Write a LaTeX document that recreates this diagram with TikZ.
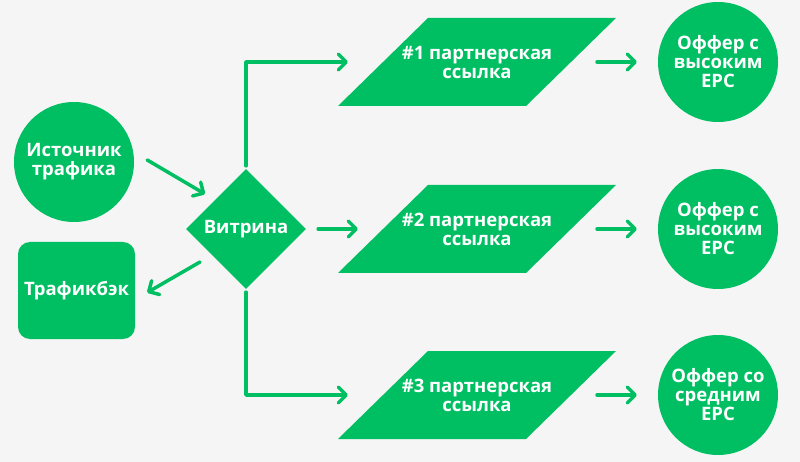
\documentclass[tikz,border=0pt]{standalone}
\usepackage{fontspec}
\setmainfont{Open Sans}
\usetikzlibrary{shapes.geometric,arrows.meta}
\definecolor{brand}{RGB}{0,191,99}
\definecolor{bgc}{RGB}{245,245,245}
\pgfdeclarelayer{under}
\pgfsetlayers{under,main}
\begin{document}
\begin{tikzpicture}[x=1pt,y=-1pt,
  lbl/.style={text=white,font=\bfseries\fontsize{18.5}{19}\selectfont,align=center,inner sep=0pt},
  blob/.style={lbl,circle,fill=brand,minimum size=120pt},
  para/.style={lbl,rectangle,minimum width=188pt,minimum height=88pt},
  rbox/.style={lbl,rectangle,rounded corners=12pt,fill=brand,minimum width=117pt,minimum height=97pt},
  dia/.style={lbl,diamond,aspect=1,fill=brand,minimum width=120pt,minimum height=120pt},
  arr/.style={draw=brand,line width=3.5pt,line cap=round,line join=round,-{Straight Barb[length=8pt,width=16pt,round]}},
  parafill/.style={fill=brand}
]
\begin{pgfonlayer}{under}
\fill[bgc] (0,0) rectangle (800,462);
\end{pgfonlayer}
\useasboundingbox (0,0) rectangle (800,462);

\node[blob] (src) at (74,162) {Источник\\трафика};
\node[rbox] (tb) at (76.5,290.5) {Трафикбэк};
\node[dia] (d) at (246,229) {Витрина};

\node[para] (p1) at (477,62) {\#1 партнерская\\ссылка};
\node[para] (p2) at (477,229) {\#2 партнерская\\ссылка};
\node[para] (p3) at (477,395) {\#3 партнерская\\ссылка};

\begin{pgfonlayer}{under}
\fill[parafill] ([shift={(-139,44)}]p1.center) -- ++(188,0) -- ++(90,-88) -- ++(-188,0) -- cycle;
\fill[parafill] ([shift={(-139,44)}]p2.center) -- ++(188,0) -- ++(90,-88) -- ++(-188,0) -- cycle;
\fill[parafill] ([shift={(-139,44)}]p3.center) -- ++(188,0) -- ++(90,-88) -- ++(-188,0) -- cycle;
\end{pgfonlayer}

\node[blob] (o1) at (718,62) {Оффер с\\высоким\\EPC};
\node[blob] (o2) at (718,229) {Оффер с\\высоким\\EPC};
\node[blob] (o3) at (718,395) {Оффер со\\средним\\EPC};

\draw[arr] ([shift={(13,-2)}]src.east) -- ([shift={(-41,-35)}]d.center);
\draw[arr] ([shift={(-46,33)}]d.center) -- ([shift={(12,2)}]tb.east);
\draw[arr] ([shift={(0,-3)}]d.north) |- ([shift={(-129,0)}]p1.center);
\draw[arr] ([shift={(12,0)}]d.east) -- ([shift={(-119,0)}]p2.center);
\draw[arr] ([shift={(0,3)}]d.south) |- ([shift={(-129,0)}]p3.center);

\draw[arr] ([shift={(120,0)}]p1.center) -- ([shift={(-81,0)}]o1.center);
\draw[arr] ([shift={(120,0)}]p2.center) -- ([shift={(-81,0)}]o2.center);
\draw[arr] ([shift={(120,0)}]p3.center) -- ([shift={(-81,0)}]o3.center);
\end{tikzpicture}
\end{document}
